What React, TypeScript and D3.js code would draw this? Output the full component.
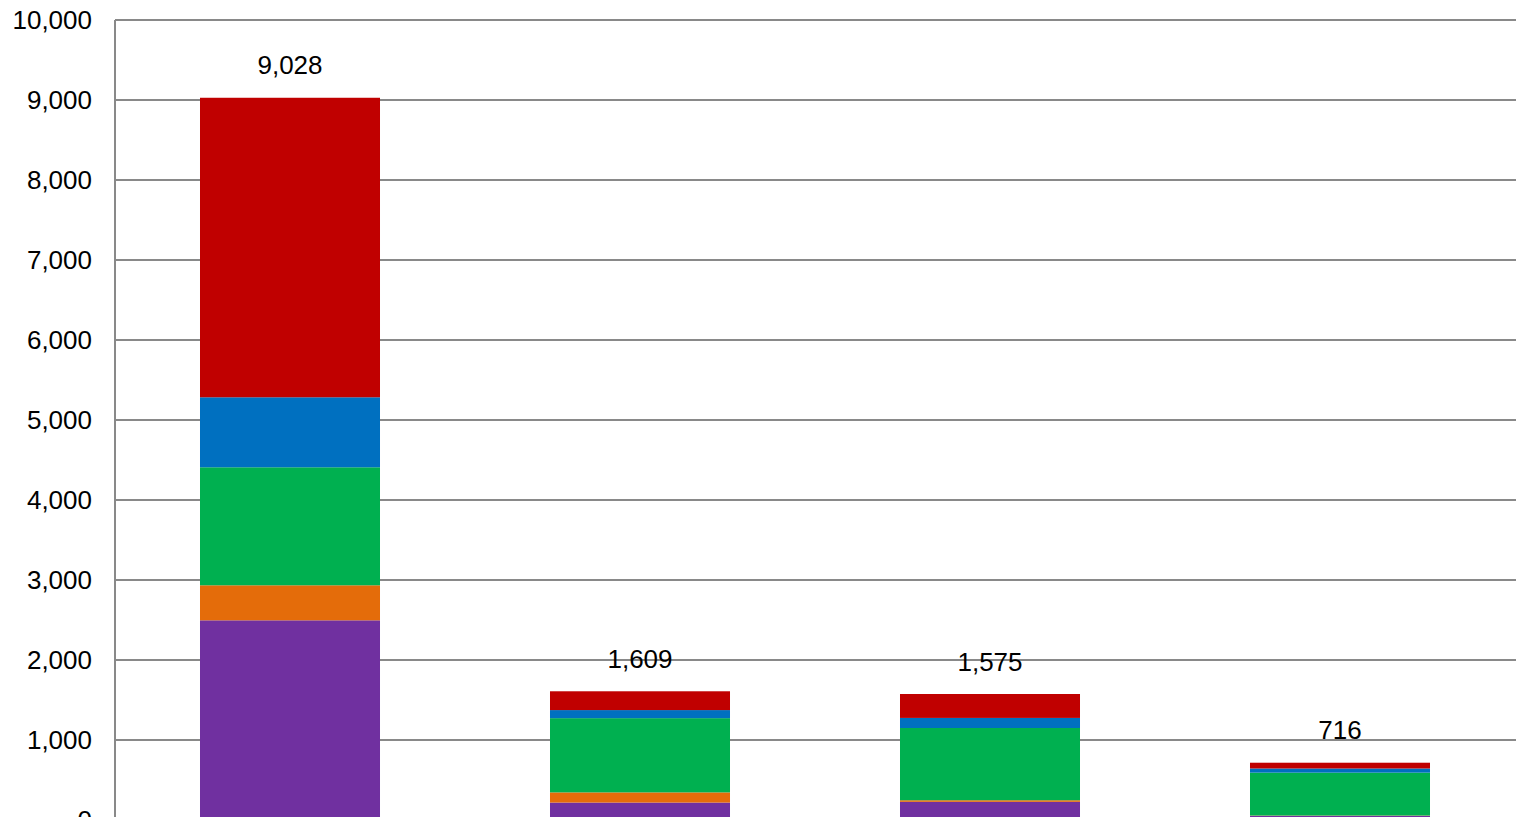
import React from "react";
import * as d3 from "d3";

const categories = ["Category 1", "Category 2", "Category 3", "Category 4"];
const seriesNames = ["Series 1", "Series 2", "Series 3", "Series 4", "Series 5"];
const series1 = [2496, 218, 227, 52];
const series2 = [438, 127, 20, 4];
const series3 = [1475, 928, 903, 536];
const series4 = [875, 101, 126, 52];
const series5 = [3744, 235, 299, 72];
const totals = [9028, 1609, 1575, 716];
const yTicks = [0, 1000, 2000, 3000, 4000, 5000, 6000, 7000, 8000, 9000, 10000];
const colors = ["#7030A0", "#E46C0A", "#00B050", "#0070C0", "#C00000"];

const W = 1516;
const H = 817;

export default function App() {
  const y = d3.scaleLinear().domain([0, 10000]).range([820, 20]);
  const x = d3
    .scaleBand<string>()
    .domain(categories)
    .range([115, 1515])
    .paddingInner(0.4857)
    .paddingOuter(0.4857 / 2);

  const rows = categories.map((c, i) => ({
    cat: c,
    s0: series1[i],
    s1: series2[i],
    s2: series3[i],
    s3: series4[i],
    s4: series5[i],
  }));
  const keys = ["s0", "s1", "s2", "s3", "s4"];
  const stacked = d3.stack<any>().keys(keys)(rows);
  const fmt = d3.format(",");

  return (
    <svg
      width={W}
      height={H}
      style={{ position: "absolute", left: 0, top: 0, display: "block" }}
      fontFamily="'Liberation Sans', Arial, sans-serif"
    >
      <rect x={0} y={0} width={W} height={H} fill="#ffffff" />
      {yTicks.map((t) => (
        <g key={t}>
          {t > 0 && (
            <line x1={115} x2={W} y1={y(t)} y2={y(t)} stroke="#898989" strokeWidth={2} />
          )}
          <text x={92} y={y(t) + 8.8} textAnchor="end" fontSize={26} fill="#000">
            {fmt(t)}
          </text>
        </g>
      ))}
      {stacked.map((layer, li) => (
        <g key={seriesNames[li]} fill={colors[li]}>
          {layer.map((d, i) => (
            <rect
              key={i}
              x={x(categories[i])}
              width={x.bandwidth()}
              y={y(d[1])}
              height={y(d[0]) - y(d[1])}
            />
          ))}
        </g>
      ))}
      <line x1={115} x2={115} y1={20} y2={820} stroke="#898989" strokeWidth={2} />
      {categories.map((c, i) => (
        <text
          key={c}
          x={(x(c) as number) + x.bandwidth() / 2}
          y={y(totals[i]) - 23.5}
          textAnchor="middle"
          fontSize={26}
          fill="#000"
        >
          {fmt(totals[i])}
        </text>
      ))}
    </svg>
  );
}
